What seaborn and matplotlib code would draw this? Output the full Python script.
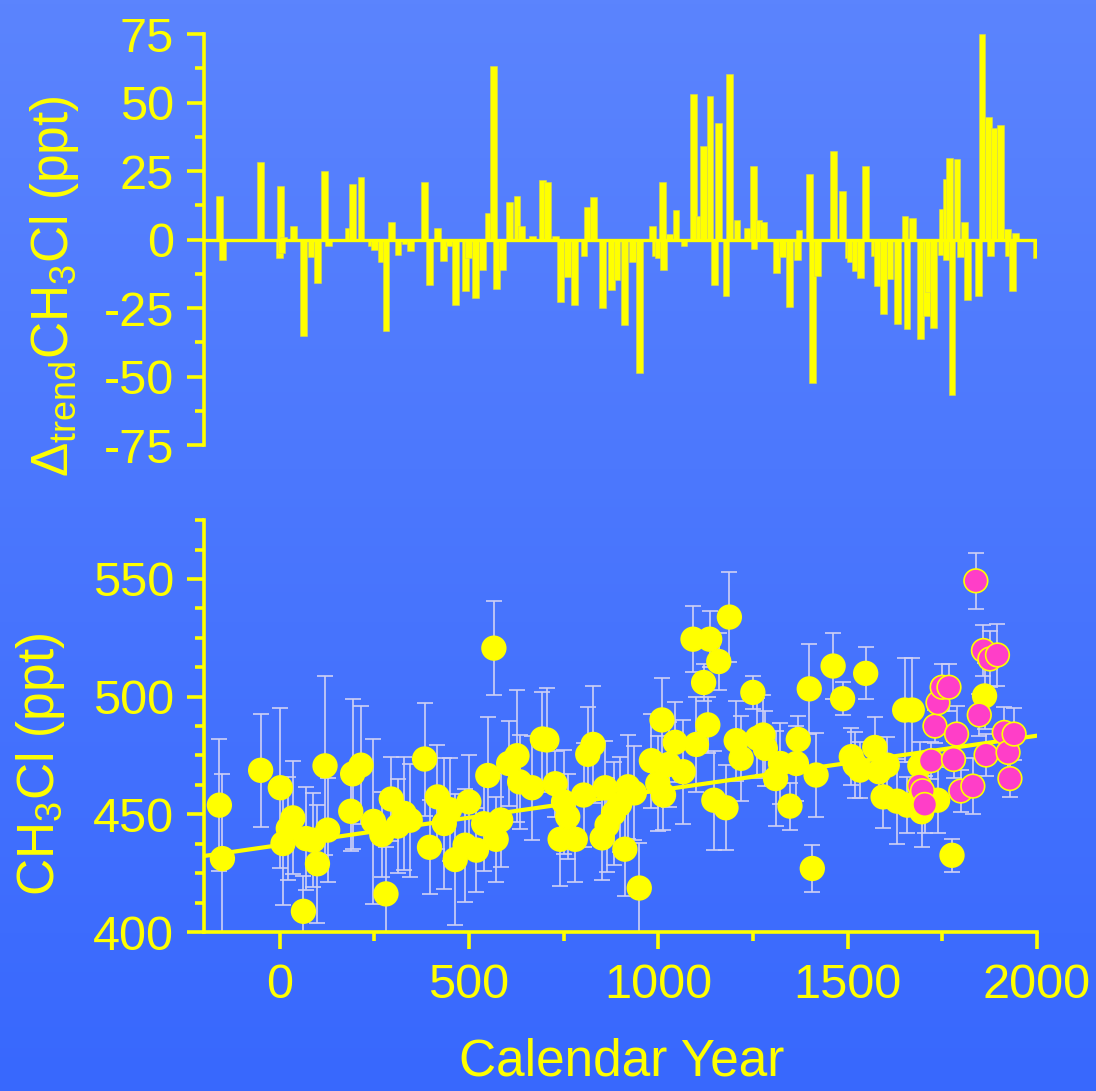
import numpy as np
import pandas as pd
import matplotlib
matplotlib.use("Agg")
import matplotlib.pyplot as plt
from matplotlib.colors import LinearSegmentedColormap
from matplotlib.ticker import MultipleLocator
import seaborn as sns

# --- data ---
# top panel: deviation from trend (ppt)
bar_years = [-158, -151, -51, 2, 0, 4, 10, 36, 63, 83, 100, 119, 130, 182, 192, 215,
             242, 250, 270, 281, 295, 313, 332, 345, 383, 395, 418, 434, 448, 464,
             491, 500, 518, 537, 551, 566, 573, 588, 608, 627, 640, 668, 694, 708,
             728, 743, 761, 780, 804, 814, 829, 852, 877, 891, 912, 933, 950, 984,
             992, 1001, 1012, 1015, 1029, 1047, 1068, 1094, 1108, 1120, 1137, 1148,
             1160, 1179, 1189, 1208, 1236, 1251, 1253, 1266, 1278, 1312, 1328, 1347,
             1367, 1372, 1400, 1407, 1421, 1462, 1487, 1502, 1507, 1522, 1535, 1548,
             1570, 1580, 1596, 1612, 1632, 1652, 1657, 1671, 1693, 1709, 1714, 1728,
             1748, 1751, 1760, 1762, 1770, 1776, 1789, 1799, 1808, 1818, 1845, 1855,
             1872, 1878, 1887, 1904, 1922, 1926, 1935, 1943, 1998]
bar_vals = [16.0, -7.3, 28.2, 19.4, -6.8, -5.0, 1.0, 5.1, -35.0, -6.2, -15.7, 25.1, -2.5,
            4.2, 20.3, 22.9, -2.2, -3.6, -8.3, -33.4, 6.3, -5.7, -1.7, -4.2, 21.1, -16.7,
            4.4, -7.9, -2.2, -23.7, -18.9, -6.8, -21.2, -10.9, 9.7, 63.3, -18.0, -10.9,
            13.7, 16.1, 4.9, 1.2, 21.8, 20.9, 1.3, -22.9, -13.7, -23.7, -5.8, 11.9, 15.5,
            -24.8, -18.4, -14.9, -31.2, -8.3, -48.5, 4.9, -5.8, -6.8, 20.9, -11.0, 2.2,
            10.7, -2.5, 53.3, 8.5, 34.2, 52.3, -16.7, 42.4, -20.5, 60.3, 7.0, 4.1, 26.8,
            -3.4, 7.2, 6.3, -12.0, -6.3, -24.5, -7.3, 3.4, 23.9, -52.5, -13.2, 32.2, 17.6,
            -6.7, -8.3, -11.3, -14.1, 26.9, -5.9, -16.9, -27.1, -14.2, -30.7, 8.5, -32.5,
            8.0, -36.2, -27.7, -19.2, -32.2, -5.7, 11.3, 22.3, -7.3, 29.7, -56.6, 29.4,
            -6.2, 6.3, -22.2, -20.5, 74.9, 44.9, -6.1, 40.9, 42.0, 3.9, -5.8, -18.9, 2.4,
            -6.8]

# bottom panel: ice core samples (yellow)
ice_years = [-159, -151, -50, 2, 9, 23, 35, 63, 70, 89, 100, 120, 127, 188, 193, 215,
             248, 270, 281, 295, 312, 329, 345, 383, 396, 417, 435, 449, 464, 490, 500,
             520, 539, 550, 566, 572, 584, 605, 627, 634, 667, 694, 706, 728, 741, 750,
             761, 781, 803, 814, 828, 852, 860, 865, 882, 898, 912, 920, 937, 950, 982,
             999, 1010, 1014, 1028, 1045, 1066, 1092, 1101, 1120, 1131, 1136, 1147, 1160,
             1179, 1188, 1206, 1219, 1250, 1262, 1277, 1283, 1310, 1323, 1348, 1365, 1370,
             1399, 1407, 1417, 1462, 1487, 1510, 1520, 1533, 1548, 1572, 1583, 1594, 1605,
             1631, 1651, 1658, 1671, 1691, 1696, 1738, 1776, 1862]
ice_vals = [453.9, 431.2, 468.7, 461.3, 437.6, 444.0, 448.5, 408.8, 439.7, 439.0, 429.0,
            470.6, 443.3, 451.3, 467.2, 470.9, 447.0, 441.4, 416.2, 456.5, 445.0, 450.4,
            447.5, 473.5, 436.0, 457.4, 446.1, 452.0, 430.8, 436.9, 455.3, 434.8, 446.0,
            466.5, 520.6, 439.4, 447.6, 471.6, 474.9, 463.8, 461.3, 482.0, 481.6, 463.0,
            439.4, 455.3, 449.0, 439.4, 458.2, 475.5, 479.7, 440.0, 461.3, 445.4, 450.4,
            454.2, 435.2, 461.7, 459.1, 418.7, 472.8, 463.1, 490.1, 458.2, 471.2, 480.6,
            468.1, 524.4, 479.7, 506.0, 488.0, 524.4, 456.0, 514.9, 452.8, 533.8, 481.3,
            473.8, 501.8, 482.3, 483.7, 478.0, 465.2, 471.6, 453.5, 471.6, 481.8, 503.3,
            427.0, 466.7, 513.0, 499.1, 474.5, 471.0, 468.8, 509.9, 478.4, 468.1, 457.4,
            470.9, 455.6, 494.3, 453.9, 494.3, 470.6, 451.1, 456.0, 432.6, 500.3]
ice_err = [28, 36, 24, 34, 26, 22, 24, 15, 22, 20, 25, 38, 22, 17, 32, 25, 35, 18, 20,
           18, 20, 24, 24, 24, 20, 22, 28, 22, 28, 24, 20, 18, 20, 25, 20, 18, 20, 18,
           28, 20, 22, 20, 22, 14, 20, 22, 18, 18, 22, 20, 25, 18, 20, 20, 22, 20, 20,
           22, 20, 19, 20, 20, 18, 15, 18, 17, 22, 14, 20, 8, 12, 12, 21, 12, 18, 19,
           17, 18, 7, 17, 17, 16, 20, 17, 10, 16, 10, 19, 10, 18, 14, 7, 12, 14, 12,
           11, 13, 10, 13, 12, 18, 22, 12, 22, 10, 15, 14, 7, 14]

# bottom panel: firn air samples (magenta)
firn_years = [1690, 1698, 1704, 1721, 1731, 1739, 1750, 1768, 1780, 1788, 1799, 1831,
              1839, 1848, 1859, 1866, 1876, 1896, 1914, 1924, 1929, 1940]
firn_vals = [462.1, 460.0, 454.2, 472.8, 487.5, 497.4, 504.0, 504.0, 473.3, 484.1, 459.9,
             462.0, 549.2, 492.2, 519.6, 475.2, 516.0, 517.7, 484.8, 476.3, 465.2, 484.1]
firn_err = [10, 10, 12, 8, 7, 8, 10, 10, 8, 12, 9, 12, 12, 9, 11, 9, 12, 13, 11, 9, 8, 11]

# linear trend end points
trend_years = [-200, 2000]
trend_vals = [432.3, 483.4]

YELLOW = "#ffff00"
PINK = "#ff3ec8"
ERRC = "#cfd0f4"

sns.set_style("ticks")
plt.rcParams["font.family"] = ["Liberation Sans", "DejaVu Sans"]
plt.rcParams["mathtext.fontset"] = "custom"
plt.rcParams["mathtext.rm"] = "Liberation Sans"
plt.rcParams["mathtext.it"] = "Liberation Sans:italic"
plt.rcParams["axes.unicode_minus"] = False

fig = plt.figure(figsize=(10.96, 10.91), dpi=100)

# gradient background
bg = fig.add_axes([0, 0, 1, 1], zorder=-10)
cmap = LinearSegmentedColormap.from_list("bg", ["#3868fd", "#5b84fd"])
bg.imshow(np.linspace(0, 1, 256).reshape(-1, 1), cmap=cmap, aspect="auto",
          origin="lower", extent=[0, 1, 0, 1])
bg.axis("off")

ax1 = fig.add_axes([0.186, 0.592, 0.760, 0.3767])
ax2 = fig.add_axes([0.186, 0.1457, 0.760, 0.3776])


def style_axis(ax):
    ax.set_facecolor("none")
    for s in ["top", "right"]:
        ax.spines[s].set_visible(False)
    for s in ["left", "bottom"]:
        ax.spines[s].set_color(YELLOW)
        ax.spines[s].set_linewidth(2.6)
    ax.tick_params(which="major", direction="out", length=12.5, width=2.6,
                   color=YELLOW, labelcolor=YELLOW, labelsize=35, pad=9)
    ax.tick_params(which="minor", direction="out", length=6.5, width=2.6,
                   color=YELLOW)


# --- top panel ---
style_axis(ax1)
ax1.bar(bar_years, bar_vals, width=18, color=YELLOW, edgecolor="#d8d850",
        linewidth=0.4, zorder=3)
ax1.axhline(0, color=YELLOW, lw=2.4, zorder=4)
ax1.set_xlim(-200, 2000)
ax1.set_ylim(-75, 75)
ax1.yaxis.set_major_locator(MultipleLocator(25))
ax1.yaxis.set_minor_locator(MultipleLocator(12.5))
ax1.spines["bottom"].set_visible(False)
ax1.tick_params(axis="x", which="both", bottom=False, labelbottom=False)

# --- bottom panel ---
style_axis(ax2)
ax2.errorbar(ice_years, ice_vals, yerr=ice_err, fmt="none", ecolor=ERRC,
             elinewidth=1.2, capsize=6, capthick=1.2, zorder=2)
ax2.errorbar(firn_years, firn_vals, yerr=firn_err, fmt="none", ecolor=ERRC,
             elinewidth=1.2, capsize=6, capthick=1.2, zorder=2)
ax2.plot(trend_years, trend_vals, color=YELLOW, lw=3, zorder=3)

df = pd.DataFrame({
    "year": ice_years + firn_years,
    "ch3cl": ice_vals + firn_vals,
    "source": ["ice"] * len(ice_years) + ["firn"] * len(firn_years),
})
sns.scatterplot(data=df, x="year", y="ch3cl", hue="source",
                palette={"ice": YELLOW, "firn": PINK}, s=290,
                edgecolor=YELLOW, linewidth=1.2, legend=False, ax=ax2, zorder=4)

ax2.set_xlim(-200, 2000)
ax2.set_ylim(400, 575)
ax2.xaxis.set_major_locator(MultipleLocator(500))
ax2.xaxis.set_minor_locator(MultipleLocator(250))
ax2.yaxis.set_major_locator(MultipleLocator(50))
ax2.yaxis.set_minor_locator(MultipleLocator(12.5))
ax2.tick_params(axis="x", which="major", pad=10)
ax2.set_xlabel("")
ax2.set_ylabel("")

# axis labels
fig.text(0.050, 0.738, r"Δ$_{\rm trend}$CH$_3$Cl (ppt)", rotation=90,
         ha="center", va="center", color=YELLOW, fontsize=37)
fig.text(0.037, 0.299, r"CH$_3$Cl (ppt)", rotation=90,
         ha="center", va="center", color=YELLOW, fontsize=37)
fig.text(0.567, 0.027, "Calendar Year", ha="center", va="center",
         color=YELLOW, fontsize=37)

fig.savefig("out.png", dpi=100)
